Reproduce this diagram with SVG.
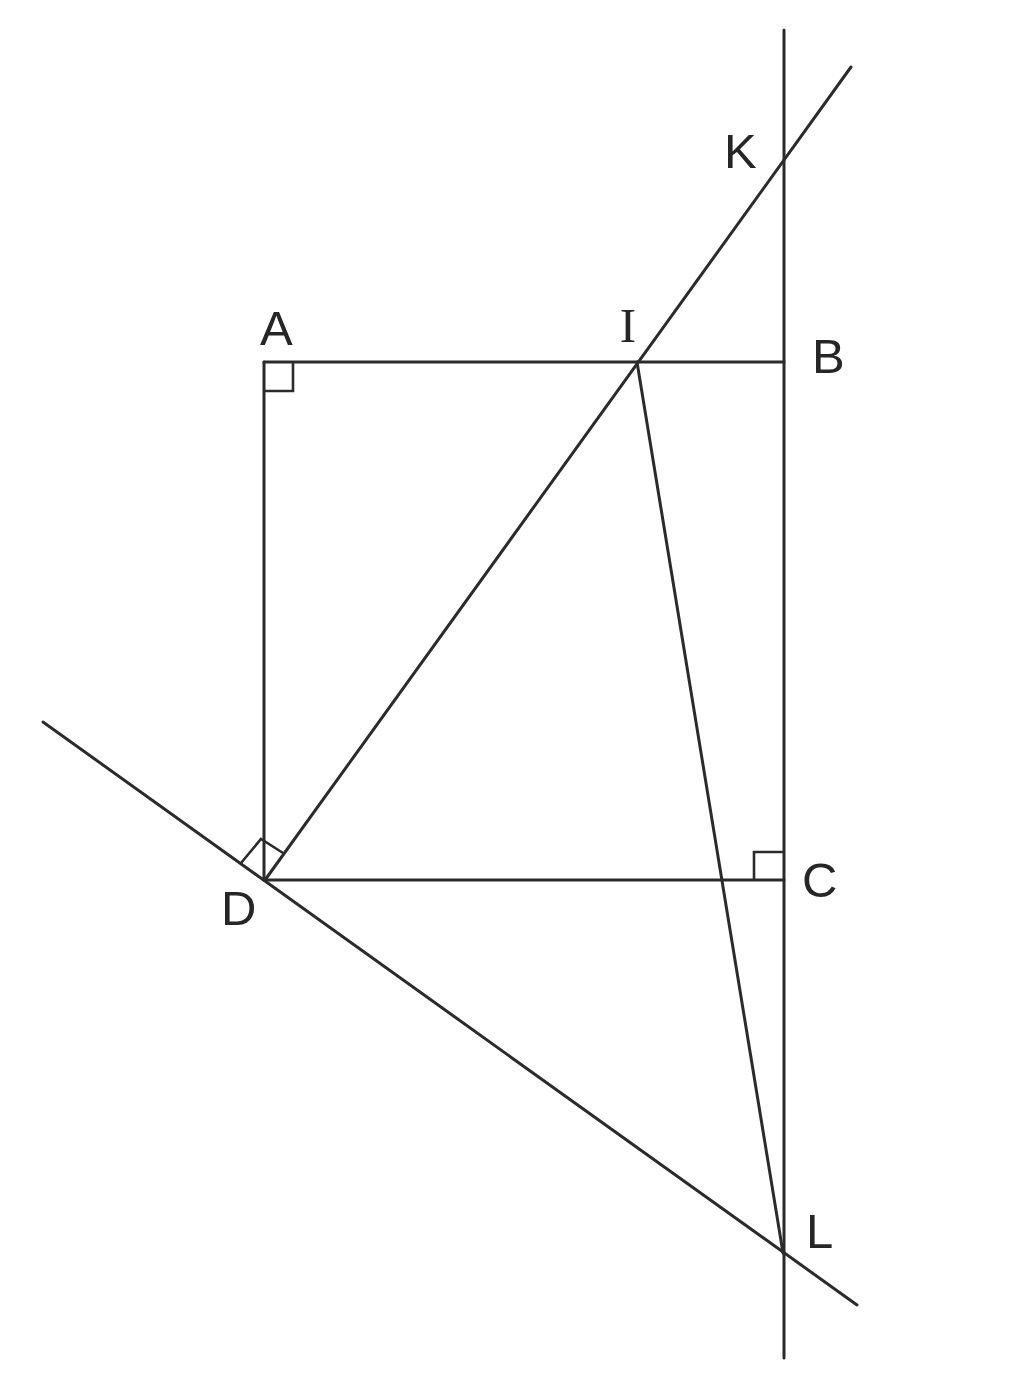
<svg xmlns="http://www.w3.org/2000/svg" width="1024" height="1387" viewBox="0 0 1024 1387">
<style>
.ln{stroke:#2b2b2b;stroke-width:3;fill:none;stroke-linecap:round}
.mk{stroke:#2b2b2b;stroke-width:2.6;fill:none}
.lb{font-family:"Liberation Sans",Arial,sans-serif;font-size:49px;fill:#262626}
.lbs{font-family:"Liberation Serif","Times New Roman",serif;font-size:49px;fill:#262626}
</style>
<rect width="1024" height="1387" fill="#ffffff"/>
<g id="connectors">
<line class="ln" x1="784" y1="30" x2="784" y2="1358"/>
<line class="ln" x1="264" y1="362" x2="784" y2="362"/>
<line class="ln" x1="264" y1="362" x2="264" y2="880"/>
<line class="ln" x1="264" y1="880" x2="784" y2="880"/>
<line class="ln" x1="265" y1="880" x2="851" y2="67"/>
<line class="ln" x1="43" y1="722" x2="857" y2="1305"/>
<line class="ln" x1="637" y1="362" x2="783" y2="1253"/>
</g>
<g id="node-A">
<polyline class="mk" points="264,391 293,391 293,362"/>
<text class="lb" x="260" y="345">A</text>
</g>
<g id="node-B">
<text class="lb" x="812" y="373">B</text>
</g>
<g id="node-C">
<polyline class="mk" points="754,880 754,852 784,852"/>
<text class="lb" x="802" y="897">C</text>
</g>
<g id="node-D">
<polyline class="mk" points="241,863 261,839 283,853"/>
<text class="lb" x="221" y="925">D</text>
</g>
<g id="node-I">
<text class="lbs" x="628" y="342" text-anchor="middle">I</text>
</g>
<g id="node-K">
<text class="lb" x="724" y="168">K</text>
</g>
<g id="node-L">
<text class="lb" x="806" y="1248">L</text>
</g>
</svg>
